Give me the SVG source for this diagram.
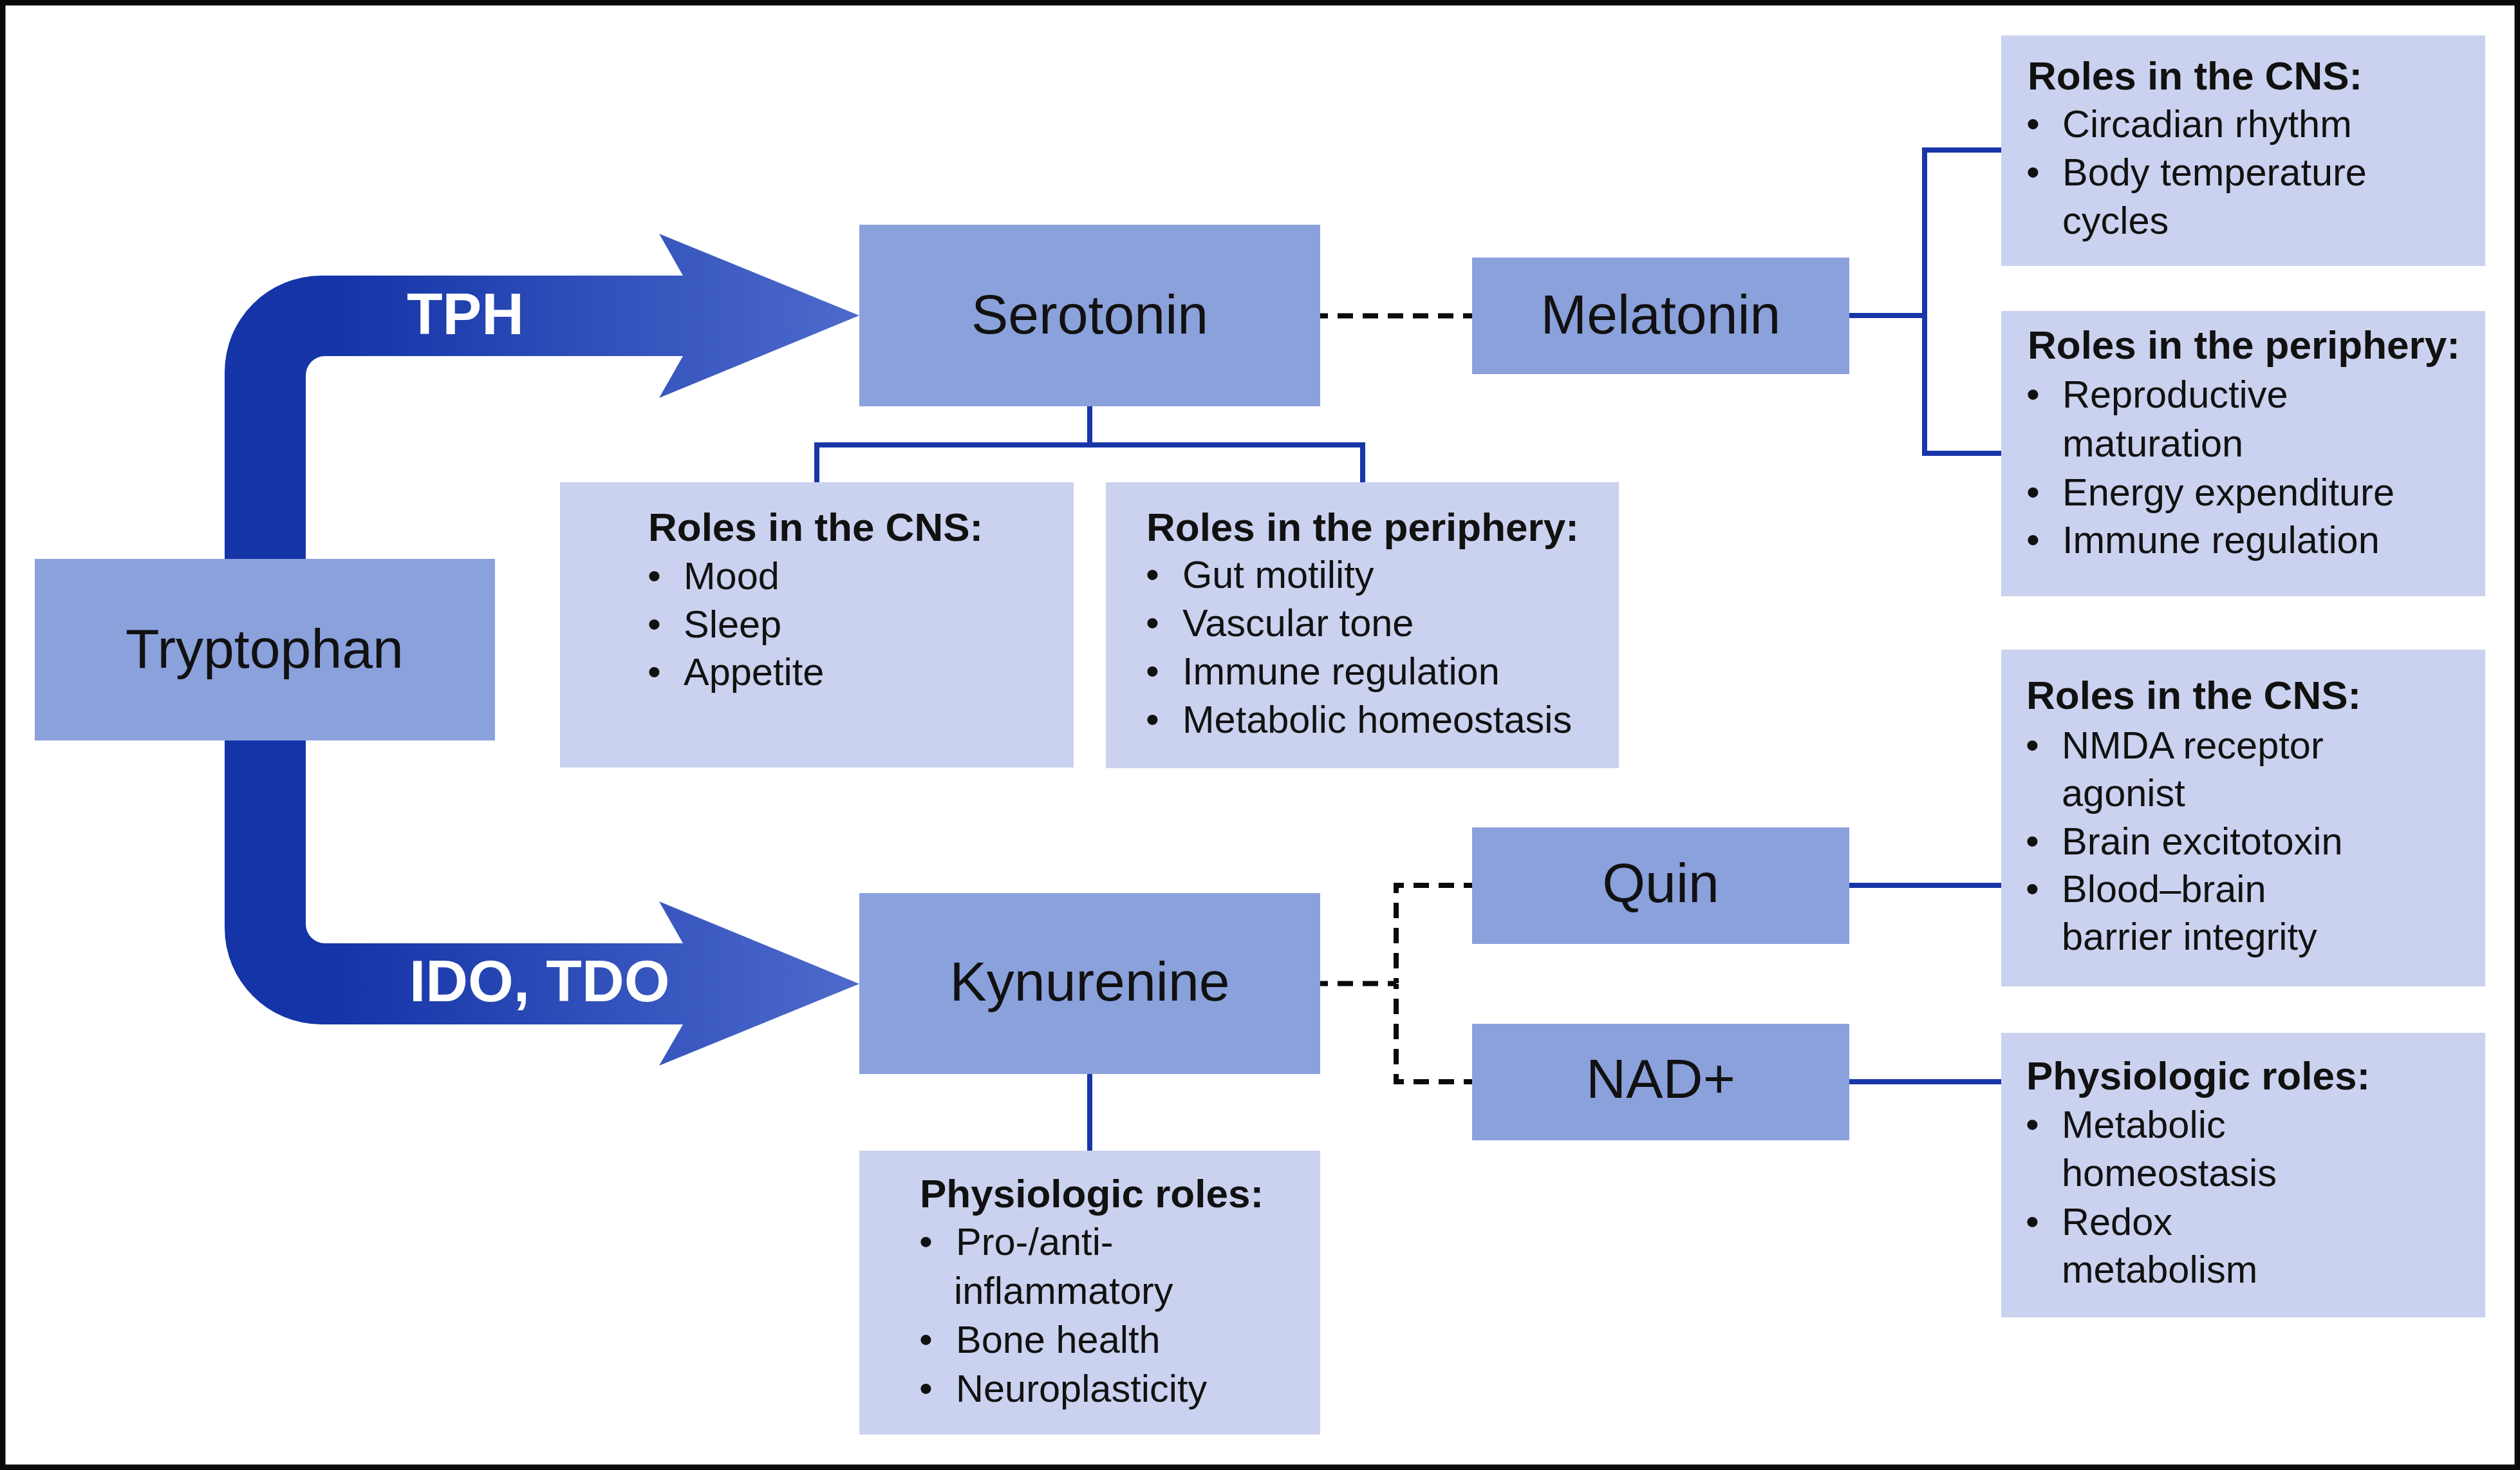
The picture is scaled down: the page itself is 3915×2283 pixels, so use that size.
<svg xmlns="http://www.w3.org/2000/svg" width="3915" height="2283" viewBox="0 0 3915 2283">
<defs>
<linearGradient id="arrowGrad" gradientUnits="userSpaceOnUse" x1="520" y1="0" x2="1335" y2="0">
<stop offset="0" stop-color="#1434A8"/>
<stop offset="1" stop-color="#4D6BCC"/>
</linearGradient>
<style>
.main{fill:#8BA1DC}
.role{fill:#CBD2EF}
.lbl{font-family:"Liberation Sans",Arial,Helvetica,sans-serif;font-size:86px;fill:#111;text-anchor:middle}
.hd{font-family:"Liberation Sans",Arial,Helvetica,sans-serif;font-size:62px;font-weight:bold;fill:#111}
.tx{font-family:"Liberation Sans",Arial,Helvetica,sans-serif;font-size:59.5px;fill:#111}
.enz{font-family:"Liberation Sans",Arial,Helvetica,sans-serif;font-size:91px;font-weight:bold;fill:#fff}
.solid{fill:none;stroke:#1836A8;stroke-width:8}
.dash{fill:none;stroke:#0A0A0A;stroke-width:8;stroke-dasharray:24 15}
</style>
</defs>
<rect x="0" y="0" width="3915" height="2283" fill="#fff"/>
<rect x="4" y="4" width="3907" height="2275" fill="none" stroke="#0A0A0A" stroke-width="9"/>

<g id="pathway-arrow">
<path fill="url(#arrowGrad)" d="M1335,490 L1024,363 L1061,428 H499 A150,150 0 0 0 349,578 V1441 A150,150 0 0 0 499,1591 H1061 L1024,1655 L1335,1528 L1024,1400 L1061,1465 H505 A30,30 0 0 1 475,1435 V583 A30,30 0 0 1 505,553 H1061 L1024,618 Z"/>
<text class="enz" x="632" y="519">TPH</text>
<text class="enz" x="636" y="1555">IDO, TDO</text>
</g>

<g id="connectors">
<path class="solid" d="M1269,749 V691 H2117 V749 M1693,631 V691"/>
<path class="solid" d="M3109,233 H2990 V704 H3109 M2873,490 H2990"/>
<path class="solid" d="M2873,1375 H3109 M2873,1680 H3109"/>
<path class="solid" d="M1693,1668 V1787"/>
<path class="dash" stroke-dashoffset="12" d="M2051,490.5 H2287"/>
<path class="dash" stroke-dashoffset="12" d="M2051,1527.5 H2169"/>
<path class="dash" stroke-dashoffset="11" d="M2287,1375 H2169 V1527"/>
<path class="dash" stroke-dashoffset="11" d="M2287,1680 H2169 V1528"/>
</g>

<g id="tryptophan">
<rect class="main" x="54" y="868" width="715" height="282"/>
<text class="lbl" x="411" y="1037">Tryptophan</text>
</g>

<g id="serotonin">
<rect class="main" x="1335" y="349" width="716" height="282"/>
<text class="lbl" x="1693" y="518">Serotonin</text>
</g>

<g id="kynurenine">
<rect class="main" x="1335" y="1387" width="716" height="281"/>
<text class="lbl" x="1693" y="1554">Kynurenine</text>
</g>

<g id="melatonin">
<rect class="main" x="2287" y="400" width="586" height="181"/>
<text class="lbl" x="2580" y="518">Melatonin</text>
</g>

<g id="quin">
<rect class="main" x="2287" y="1285" width="586" height="181"/>
<text class="lbl" x="2580" y="1401">Quin</text>
</g>

<g id="nad">
<rect class="main" x="2287" y="1590" width="586" height="181"/>
<text class="lbl" x="2580" y="1705">NAD+</text>
</g>

<g id="serotonin-cns">
<rect class="role" x="870" y="749" width="798" height="443"/>
<text class="hd" x="1007" y="840">Roles in the CNS:</text>
<text class="tx" x="1006" y="915">•</text><text class="tx" x="1062" y="915">Mood</text>
<text class="tx" x="1006" y="990">•</text><text class="tx" x="1062" y="990">Sleep</text>
<text class="tx" x="1006" y="1064">•</text><text class="tx" x="1062" y="1064">Appetite</text>
</g>

<g id="serotonin-periphery">
<rect class="role" x="1718" y="749" width="797" height="444"/>
<text class="hd" x="1781" y="840">Roles in the periphery:</text>
<text class="tx" x="1780" y="913">•</text><text class="tx" x="1837" y="913">Gut motility</text>
<text class="tx" x="1780" y="988">•</text><text class="tx" x="1837" y="988">Vascular tone</text>
<text class="tx" x="1780" y="1063">•</text><text class="tx" x="1837" y="1063">Immune regulation</text>
<text class="tx" x="1780" y="1138">•</text><text class="tx" x="1837" y="1138">Metabolic homeostasis</text>
</g>

<g id="kynurenine-roles">
<rect class="role" x="1335" y="1787" width="716" height="441"/>
<text class="hd" x="1429" y="1875">Physiologic roles:</text>
<text class="tx" x="1428" y="1949">•</text><text class="tx" x="1485" y="1949">Pro-/anti-</text>
<text class="tx" x="1482" y="2025">inflammatory</text>
<text class="tx" x="1428" y="2101">•</text><text class="tx" x="1485" y="2101">Bone health</text>
<text class="tx" x="1428" y="2177">•</text><text class="tx" x="1485" y="2177">Neuroplasticity</text>
</g>

<g id="melatonin-cns">
<rect class="role" x="3109" y="55" width="752" height="358"/>
<text class="hd" x="3150" y="139">Roles in the CNS:</text>
<text class="tx" x="3148" y="213">•</text><text class="tx" x="3204" y="213">Circadian rhythm</text>
<text class="tx" x="3148" y="288">•</text><text class="tx" x="3204" y="288">Body temperature</text>
<text class="tx" x="3204" y="363">cycles</text>
</g>

<g id="melatonin-periphery">
<rect class="role" x="3109" y="483" width="752" height="443"/>
<text class="hd" x="3150" y="557">Roles in the periphery:</text>
<text class="tx" x="3148" y="633">•</text><text class="tx" x="3204" y="633">Reproductive</text>
<text class="tx" x="3204" y="709">maturation</text>
<text class="tx" x="3148" y="785">•</text><text class="tx" x="3204" y="785">Energy expenditure</text>
<text class="tx" x="3148" y="859">•</text><text class="tx" x="3204" y="859">Immune regulation</text>
</g>

<g id="quin-cns">
<rect class="role" x="3109" y="1009" width="752" height="523"/>
<text class="hd" x="3148" y="1101">Roles in the CNS:</text>
<text class="tx" x="3147" y="1178">•</text><text class="tx" x="3203" y="1178">NMDA receptor</text>
<text class="tx" x="3203" y="1252">agonist</text>
<text class="tx" x="3147" y="1327">•</text><text class="tx" x="3203" y="1327">Brain excitotoxin</text>
<text class="tx" x="3147" y="1401">•</text><text class="tx" x="3203" y="1401">Blood–brain</text>
<text class="tx" x="3203" y="1475">barrier integrity</text>
</g>

<g id="nad-roles">
<rect class="role" x="3109" y="1604" width="752" height="442"/>
<text class="hd" x="3148" y="1692">Physiologic roles:</text>
<text class="tx" x="3147" y="1767">•</text><text class="tx" x="3203" y="1767">Metabolic</text>
<text class="tx" x="3203" y="1842">homeostasis</text>
<text class="tx" x="3147" y="1918">•</text><text class="tx" x="3203" y="1918">Redox</text>
<text class="tx" x="3203" y="1992">metabolism</text>
</g>
</svg>
